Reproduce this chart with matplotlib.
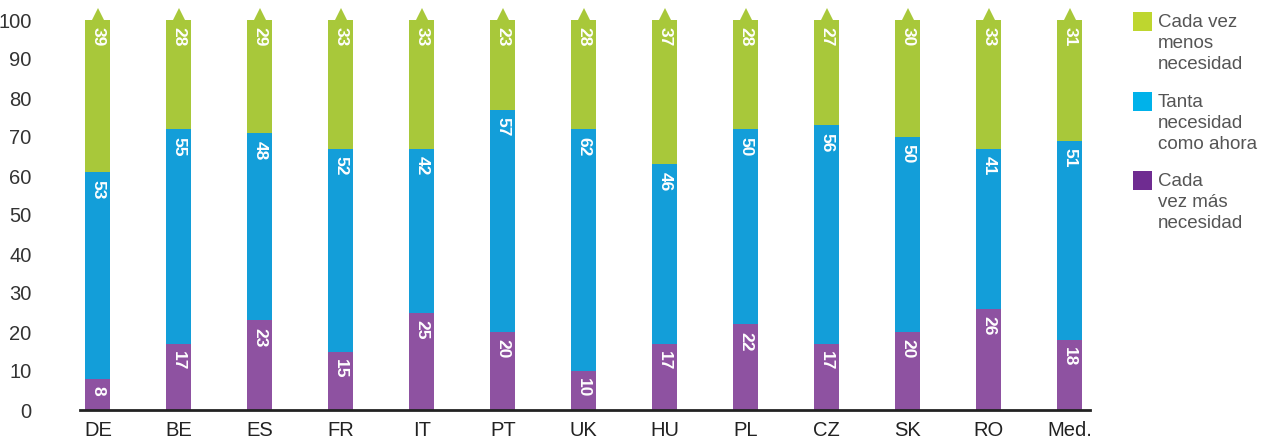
import numpy as np
import matplotlib
matplotlib.use("Agg")
import matplotlib.pyplot as plt

countries = ["DE", "BE", "ES", "FR", "IT", "PT", "UK", "HU", "PL", "CZ", "SK", "RO", "Med."]
more_need = [8, 17, 23, 15, 25, 20, 10, 17, 22, 17, 20, 26, 18]
same_need = [53, 55, 48, 52, 42, 57, 62, 46, 50, 56, 50, 41, 51]
less_need = [39, 28, 29, 33, 33, 23, 28, 37, 28, 27, 30, 33, 31]
yticks = [0, 10, 20, 30, 40, 50, 60, 70, 80, 90, 100]

legend_labels = ["Cada vez\nmenos\nnecesidad", "Tanta\nnecesidad\ncomo ahora", "Cada\nvez más\nnecesidad"]

bar_cols = ["#8e52a1", "#139ed9", "#a8c83a"]
legend_cols = ["#bed62f", "#00b2ea", "#6f2c91"]

plt.rcParams["font.family"] = ["Liberation Sans", "DejaVu Sans"]

W, H = 1274, 443
fig = plt.figure(figsize=(W / 100, H / 100), dpi=100)
ax = fig.add_axes([80 / W, 1 - 410 / H, (1090 - 80) / W, (410 - 20) / H])

x = np.arange(len(countries))
width = 0.31
bottom = np.zeros(len(countries))
for vals, col in zip([more_need, same_need, less_need], bar_cols):
    vals = np.array(vals)
    ax.bar(x, vals, width, bottom=bottom, color=col, linewidth=0)
    for xi, b, v in zip(x, bottom, vals):
        ax.text(xi, b + v - 1.9, str(v), rotation=270, ha="center", va="top",
                color="white", fontsize=12.5, fontweight="bold")
    bottom += vals

# little arrow heads on top of each bar
ax.plot(x, bottom + 1.2, linestyle="none", marker="^", markersize=10,
        color=bar_cols[2], markeredgewidth=0, clip_on=False)

ax.set_xlim(-0.22, 12.25)
ax.set_ylim(0, 100)
ax.set_xticks(x)
ax.set_xticklabels(countries, fontsize=14.5, color="#222222")
ax.set_yticks(yticks)
ax.set_yticklabels([str(t) for t in yticks], fontsize=14.5, color="#333333")
ax.tick_params(axis="both", length=0)
ax.tick_params(axis="y", pad=35)
ax.tick_params(axis="x", pad=8)
for s in ["top", "right", "left"]:
    ax.spines[s].set_visible(False)
ax.spines["bottom"].set_linewidth(2)
ax.spines["bottom"].set_color("#222222")

# legend on the right
tops = [12, 92, 171]
for lab, col, t in zip(legend_labels, legend_cols, tops):
    fig.patches.append(plt.Rectangle((1133 / W, 1 - (t + 19) / H), 19 / W, 19 / H,
                                     transform=fig.transFigure, color=col, linewidth=0))
    fig.text(1158 / W, 1 - (t + 2) / H, lab, fontsize=13.5, color="#555555",
             va="top", ha="left", linespacing=1.3)

fig.savefig("out.png", dpi=100)
